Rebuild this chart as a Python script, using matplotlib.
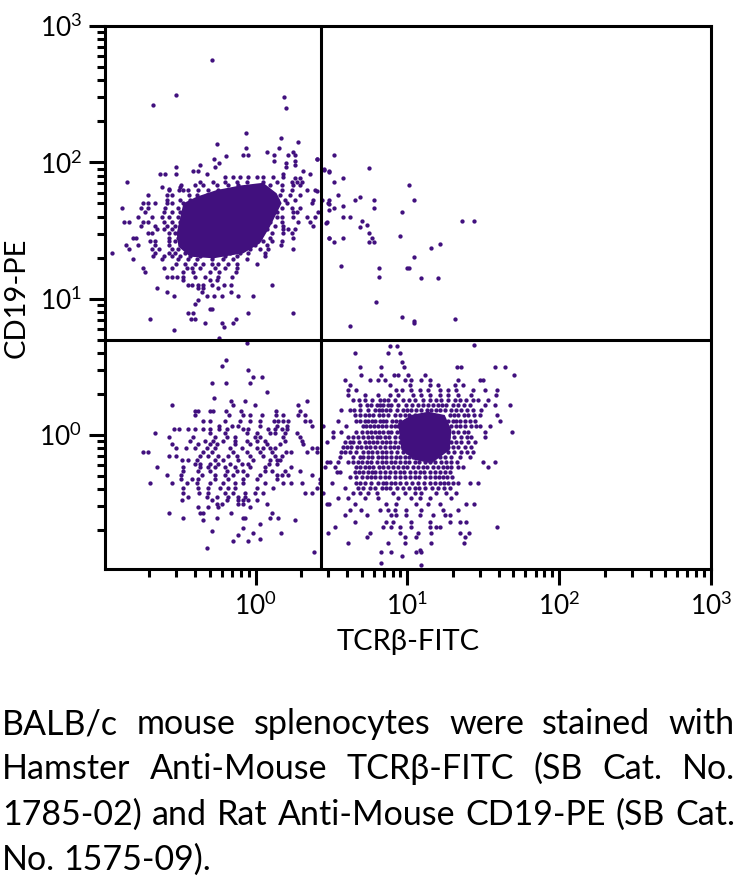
import numpy as np
import matplotlib
matplotlib.use("Agg")
import matplotlib.pyplot as plt
from matplotlib.ticker import LogLocator, LogFormatterMathtext, NullFormatter

# all event positions are log10 values, grouped by row
# lower right population (TCRb+)
t_y = [.66, .653, .60, .538, .50, .44, .40, .367, .33, .294, .257, .22, .184, .147, .103, .066, .025, -.012,
       -.049, -.085, -.122, -.159, -.195, -.232, -.269, -.31, -.354, -.391, -.428, -.464, -.508, -.55, -.587,
       -.636, -.677, -.721, -.75, -.79, -.84, -.856, -.887, -.936, -.953]
t_x = [
    [1.437], [.884, .935], [.654, .873, .95], [.966], [.687, .825, .979, 1.33, 1.356, 1.575, 1.64],
    [.698, .825, .913, .94, 1.005, 1.115, 1.70],
    [.588, .753, .808, .856, .983, 1.027, 1.093, 1.148, 1.334, 1.477, 1.5],
    [.621, .884, 1.016, 1.148, 1.202, 1.312, 1.367],
    [.61, .665, .928, .966, 1.027, 1.082, 1.137, 1.213, 1.268, 1.323, 1.433, 1.514, 1.593],
    [.606, .72, .808, .884, .94, 1.038, 1.093, 1.148, 1.213, 1.268, 1.334, 1.422, 1.586],
    [.643, .72, .819, .873, .972, 1.049, 1.148, 1.224, 1.312, 1.389, 1.466, 1.531],
    [.687, .731, .797, .841, .895, .994, 1.071, 1.137, 1.202, 1.257, 1.334, 1.411, 1.509, 1.575, 1.674],
    [.562, .621, .687, .786, .83, .884, .972, 1.027, 1.093, 1.159, 1.213, 1.29, 1.356, 1.433, 1.487],
    [.654, .72, .775, .841, .917, .983, 1.049, 1.279, 1.334, 1.4, 1.477, 1.593],
    [.544, .665, .72, .764, .819, .862, .928, .983, 1.268, 1.323, 1.378, 1.444, 1.608],
    [.446, .599, .709, .753, .808, .862, .917, .972, 1.29, 1.345, 1.422, 1.477, 1.542],
    [.512, .566, .665, .731, .786, .841, .895, .961, 1.268, 1.334, 1.4, 1.509, 1.689],
    [.512, .61, .676, .742, .797, .851, .917, .983, 1.268, 1.356, 1.422, 1.509],
    [.468, .588, .643, .72, .775, .83, .884, .95, 1.005, 1.29, 1.356, 1.444],
    [.577, .632, .698, .753, .819, .884, .94, .994, 1.268, 1.334, 1.422],
    [.402, .566, .621, .709, .764, .83, .895, .972, 1.027, 1.268, 1.356, 1.433],
    [.555, .687, .742, .808, .862, .928, .983, 1.038, 1.148, 1.213, 1.29, 1.411],
    [.468, .49, .544, .61, .676, .731, .797, .862, .917, .983, 1.049, 1.115, 1.18, 1.257, 1.29, 1.498, 1.575],
    [.457, .522, .665, .72, .775, .841, .906, .972, 1.038, 1.104, 1.169, 1.235, 1.29, 1.334, 1.367, 1.531],
    [.534, .555, .654, .709, .764, .819, .884, .95, 1.016, 1.082, 1.148, 1.213, 1.279],
    [.621, .665, .731, .786, .851, .917, .983, 1.049, 1.115, 1.18, 1.235, 1.294],
    [.424, .501, .665, .72, .808, .862, .917, .994, 1.071, 1.148, 1.213, 1.268, 1.334, 1.411, 1.466],
    [.588, .676, .753, .83, .884, .972, 1.049, 1.115, 1.202, 1.279],
    [.446, .643, .687, .742, .797, .906, .983, 1.049, 1.093, 1.191, 1.257, 1.323],
    [.544, .61, .72, .808, .94, 1.027, 1.082, 1.148, 1.29],
    [.468, .483, .654, .862, .928, 1.06, 1.137, 1.213, 1.389, 1.439],
    [.621, .698, .819, .873, .917, .994, 1.093, 1.235, 1.334],
    [.588, .731, .895, .928, .994, 1.082, 1.169, 1.246, 1.279],
    [.654, .862, .906, 1.027, 1.148, 1.279, 1.345, 1.389],
    [.522, .841, .895, .95, 1.027, 1.148, 1.191, 1.213, 1.593],
    [.479, .753, .95, 1.071, 1.159, 1.345, 1.404],
    [.731, .983, 1.06, 1.378], [.606, .873, .983, 1.154, 1.373], [1.082], [.825, .891, 1.06, 1.093],
    [.966], [.825], [1.093],
]

# extra events in the crowded part of the same population
t2_y = [.257, .22, .184, .147, .103, .066, .025, -.012, -.049, -.085, -.122, -.159, -.195, -.232, -.269,
        -.31, -.354, -.391]
t2_x = [
    [.68, .77, .845, .92, 1.01, 1.10, 1.19, 1.27, 1.35, 1.43],
    [.76, .82, .87, .94, 1.03, 1.10, 1.17, 1.23, 1.30, 1.37],
    [.65, .74, .81, .86, .93, 1.0, 1.06, 1.13, 1.19, 1.25, 1.32, 1.39],
    [.69, .75, .81, .87, .95, 1.01, 1.31, 1.37, 1.44],
    [.69, .74, .79, .84, .9, .95, 1.30, 1.35, 1.41],
    [.73, .78, .83, .89, .94, 1.32, 1.38, 1.45],
    [.70, .76, .81, .87, .93, 1.30, 1.37],
    [.64, .71, .77, .82, .88, .95, 1.31, 1.39],
    [.62, .68, .75, .80, .86, .92, .98, 1.32, 1.40],
    [.60, .67, .73, .79, .85, .91, .97, 1.30, 1.38],
    [.59, .66, .74, .80, .86, .93, 1.00, 1.31, 1.39],
    [.64, .71, .77, .83, .89, .95, 1.01, 1.25, 1.35],
    [.64, .70, .76, .83, .89, .95, 1.01, 1.08, 1.15, 1.22, 1.33],
    [.69, .75, .81, .87, .94, 1.00, 1.07, 1.13, 1.20, 1.26],
    [.68, .74, .79, .85, .92, .98, 1.05, 1.11, 1.18, 1.25],
    [.70, .76, .82, .88, .95, 1.02, 1.08, 1.15, 1.21, 1.26],
    [.69, .76, .84, .89, .95, 1.03, 1.11, 1.18, 1.24, 1.30],
    [.71, .79, .86, .93, 1.01, 1.08, 1.16, 1.24],
]

# lower left population
dn_y = [.677, .55, .506, .477, .428, .379, .318, .269, .252, .22, .176, .147, .103, .066, .042, .017, -.012,
        -.044, -.066, -.098, -.127, -.154, -.183, -.213, -.237, -.261, -.293, -.325, -.354, -.391, -.423,
        -.452, -.477, -.506, -.53, -.574, -.606, -.623, -.653, -.684, -.701, -.716, -.733, -.765, -.78,
        -.826, -.858]
dn_x = [
    [-.058], [-.192], [-.223], [-.052], [-.019, .043], [-.286, -.192, -.036], [.073], [-.271],
    [-.161, -.067, .341], [-.552, -.146, -.003, .277],
    [-.398, -.38, -.299, -.282, -.192, -.098, .135, .293],
    [-.396, -.176, -.08, -.036, .043, .135, .183, .277, .326],
    [-.348, -.299, -.201, -.102, -.036, .03, .122, .15, .183, .216, .359, .326],
    [-.238, -.157, -.113, .03, .139, .205, .37],
    [-.536, -.505, -.442, -.398, -.348, -.299, -.238, -.19, -.08, -.047, .084, .128, .172, .205],
    [-.661, -.299, -.201, -.058, .008, .095, .128, .194, .271],
    [-.567, -.409, -.266, -.19, -.135, -.003, .03, .183, .293],
    [-.431, -.332, -.277, -.212, -.135, -.058, .008, .063, .194, .304],
    [-.552, -.376, -.299, -.255, -.135, -.036, .073, .161, .315],
    [-.523, -.457, -.398, -.321, -.266, -.168, -.091, .008, .052, .095, .128, .37, .403],
    [-.742, -.709, -.343, -.288, -.146, -.058, .03, .106, .201, .231, .337],
    [-.567, -.523, -.365, -.31, -.244, -.179, -.124, -.036, .052, .128, .172],
    [-.486, -.442, -.387, -.266, -.212, -.113, -.014, .095, .139, .161],
    [-.398, -.365, -.299, -.244, -.168, -.091, -.047, .091, .139],
    [-.646, -.475, -.365, -.31, -.266, -.201, -.135, -.036, .063, .231],
    [-.475, -.376, -.299, -.19, -.124, -.08, .063, .106, .194, .293],
    [-.584, -.49, -.354, -.266, -.201, -.146, -.058, .03, .139, .172, .216, .37],
    [-.49, -.42, -.376, -.266, -.179, -.08, .008, .139, .424],
    [-.694, -.552, -.453, -.387, -.299, -.212, -.135, -.08, .063, .183, .231, .304],
    [-.475, -.376, -.31, -.233, -.179, -.135, .008, .118, .403],
    [-.475, -.37, -.31, -.201, -.146, -.069, -.003, .052, .326, .37],
    [-.442, -.321, -.255, -.179, -.113, -.069],
    [-.486, -.288, -.19, -.113, -.08, -.047, .008],
    [-.255, -.223, -.113, -.08, .073], [-.38, -.315, -.244, -.036],
    [-.567, -.365, -.348, -.161, .106], [-.475, -.255, -.084, -.067, .095, .15], [-.348, .262], [.03],
    [-.08], [-.286], [-.019, .168], [-.113], [.03], [-.146, -.052], [-.317], [.387],
]

# upper left population, events outside the solid core
b_y = [2.747, 2.495, 2.48, 2.417, 2.402, 2.214, 2.182, 2.15, 2.135, 2.104, 2.074, 2.057, 2.043, 2.025, 2.011,
       1.994, 1.979, 1.964, 1.947, 1.933, 1.915, 1.895, 1.886, 1.858, 1.837, 1.822, 1.808, 1.797, 1.761, 1.724,
       1.70, 1.668, 1.638, 1.602, 1.565, 1.533, 1.509, 1.479, 1.448, 1.426, 1.396, 1.367, 1.338, 1.313, 1.289,
       1.255, 1.223, 1.196, 1.162, 1.137, 1.10, 1.076, 1.052, 1.02, .99, .959, .922, .897, .851, .819, .795,
       .77, .709]
b_x = [
    [-.286], [-.521], [.185], [-.677], [.201], [-.065], [.168], [.28], [-.253], [.155, -.065],
    [.073, .247], [-.08, -.049, .122, .216, .262], [-.192], [-.271, .405], [.122, .262],
    [-.238, .201], [-.365, .262], [-.521, -.269, .201], [.451], [-.409, -.378, .31, .481],
    [-.628, -.598, -.521, -.317, .183, .359],
    [-.201, -.146, -.102, -.047, .008, .052, .117, .183], [.262, .295],
    [-.848, -.365, -.277, -.201, -.124, -.058, .052, .139, .238, .271, .304],
    [-.49, .247, -.398, -.343, -.255, -.179, -.113, .095, .172, .293],
    [-.615, -.497], [-.567],
    [-.567, -.503, -.475, -.442, -.376, -.31, -.244, .172, .238, .337, .391],
    [-.709, -.584, -.551, -.435, -.387, -.321, .161, .227, .293],
    [-.584, -.497, -.431, .139, .194, .26, .381, .435],
    [-.738, -.705, -.661, -.584, -.551, -.475, .205, .37, .479],
    [-.88, -.755, -.709, -.595, -.508, .128, .172, .238, .293],
    [-.727, -.606, -.551, -.497, .139, .249, .271, .413],
    [-.771, -.683, -.617, -.573, -.508, .139, .172, .249, .337, .391],
    [-.865, -.834, -.738, -.709, -.606, -.551, -.497, .095, .172, .282, .359, .468],
    [-.755, -.661, -.584, -.53, -.497, .052, .128, .183, .381],
    [-.65, -.606, -.551, -.497, .073, .183, .216, .26],
    [-.705, -.683, -.573, -.53, -.497, -.442, .03, .106, .183, .238],
    [-.804, -.786, -.573, -.508, -.453, -.387, -.036, .03, .095, .249, .481],
    [-.694, -.661, -.573, -.53, -.442, -.365, .008, .052, .106, .172],
    [-.852, -.771, -.661, -.573, -.486, -.409, -.058, -.003, .073, .168],
    [-.834, -.683, -.639, -.552, -.508, -.442, -.376, -.321, -.102, -.036, .03, .084, .245],
    [-.944, -.661, -.573, -.53, -.464, -.398, -.299, -.233, -.168, -.102, -.047, .063],
    [-.672, -.606, -.552, -.497, -.431, -.365, -.277, -.201, -.124, .063],
    [-.804, -.617, -.508, -.442, -.387, -.288, -.212, -.146, -.058],
    [-.523, -.464, -.398, -.343, -.288, -.244, -.179, -.124, .012],
    [-.742, -.602, -.551, -.453, -.42, -.365, -.266, -.201, -.124],
    [-.725, -.475, -.409, -.299, -.238, -.128],
    [-.584, -.551, -.519, -.475, -.398, -.332, -.244, -.157], [-.475, -.299, -.255],
    [-.442, -.42, -.376, -.343, -.288, -.207, -.161, .106], [-.646, -.376, -.343, -.244],
    [-.584, -.354, -.161], [-.536, -.317, -.271, -.223, -.113, -.019], [-.38], [-.396], [-.286, -.299],
    [-.442, -.413, -.052, .245], [-.694, -.426, -.396, -.128], [-.332, -.223, -.146], [-.207], [-.536],
    [-.238],
]

# upper right events
dp_x = [.514, .402, .746, .45, .483, .575, .514, 1.014, .402, .545, .483, .654, .685, .779, 1.045, .483, .575,
        .779, .514, .483, .968, .575, .621, .7, 1.358, 1.437, .466, .733, .685, .746, .95, .764, .483, .575,
        .514, .746, .779, 1.218, 1.154, 1.045, .56, .81, 1.0, 1.014, .81, 1.093, 1.202, .794, .968, 1.312,
        1.045, 1.045, .621]
dp_y = [2.057, 2.025, 1.962, 1.95, 1.932, 1.883, 1.854, 1.837, 1.791, 1.759, 1.727, 1.727, 1.744, 1.727, 1.727,
        1.695, 1.681, 1.666, 1.666, 1.649, 1.634, 1.602, 1.602, 1.571, 1.571, 1.571, 1.556, 1.541, 1.524,
        1.478, 1.46, 1.446, 1.446, 1.446, 1.414, 1.414, 1.414, 1.399, 1.368, 1.304, 1.24, 1.226, 1.226, 1.226,
        1.162, 1.148, 1.148, .976, .866, .852, .835, .82, .803]

# outlines of the regions where the dots merge into solid colour
b_core_x = [-.519, -.475, -.387, -.255, -.102, .05, .139, .172, .095, .03, -.08, -.277, -.431, -.508]
b_core_y = [1.479, 1.70, 1.748, 1.797, 1.83, 1.85, 1.773, 1.70, 1.528, 1.406, 1.333, 1.296, 1.308, 1.382]
t_core_x = [.939, 1.027, 1.137, 1.246, 1.29, 1.279, 1.159, 1.049, .961]
t_core_y = [.086, .147, .171, .147, .037, -.11, -.208, -.183, -.11]

x_gate = 2.7
y_gate = 4.98

caption_lines = [
    "BALB/c mouse splenocytes were stained with",
    "Hamster Anti-Mouse TCRβ-FITC (SB Cat. No.",
    "1785-02) and Rat Anti-Mouse CD19-PE (SB Cat.",
    "No. 1575-09).",
]

PURPLE = "#41107e"
plt.rcParams["font.family"] = ["Lato", "DejaVu Sans"]
plt.rcParams["mathtext.fontset"] = "custom"
plt.rcParams["mathtext.rm"] = "Lato"
plt.rcParams["mathtext.default"] = "regular"


def _unroll(rows_y, rows_x):
    xs, ys = [], []
    for y, row in zip(rows_y, rows_x):
        xs.extend(row)
        ys.extend([y] * len(row))
    return np.array(xs), np.array(ys)


def _justified(fig, words, y_px, left, right, size, justify=True):
    renderer = fig.canvas.get_renderer()
    items = [fig.text(0, 1 - y_px / 883, w, fontsize=size, va="baseline", color="black") for w in words]
    widths = [t.get_window_extent(renderer).width for t in items]
    gap = (right - left - sum(widths)) / (len(words) - 1) if justify else size * 0.32
    x = left
    for t, w in zip(items, widths):
        t.set_x(x / 738)
        x += w + gap


fig = plt.figure(figsize=(7.38, 8.83), dpi=100)
ax = fig.add_axes([105 / 738, 1 - 569 / 883, (711 - 105) / 738, (569 - 26) / 883])

ax.set_xscale("log")
ax.set_yscale("log")
ax.set_xlim(0.102, 1000)
ax.set_ylim(0.104, 1000)

ax.fill(10 ** np.array(b_core_x), 10 ** np.array(b_core_y), color=PURPLE, lw=0, zorder=2)
ax.fill(10 ** np.array(t_core_x), 10 ** np.array(t_core_y), color=PURPLE, lw=0, zorder=2)

for rows_y, rows_x in [(t_y, t_x), (t2_y, t2_x), (dn_y, dn_x), (b_y, b_x)]:
    xs, ys = _unroll(rows_y, rows_x)
    ax.plot(10 ** xs, 10 ** ys, ls="none", marker="o", ms=3.1, mew=0, color=PURPLE, zorder=3)
ax.plot(10 ** np.array(dp_x), 10 ** np.array(dp_y), ls="none", marker="o", ms=3.1, mew=0, color=PURPLE, zorder=3)

ax.axvline(x_gate, color="black", lw=2.2, zorder=4)
ax.axhline(y_gate, color="black", lw=2.2, zorder=4)

for spine in ax.spines.values():
    spine.set_linewidth(2.2)

for axis in (ax.xaxis, ax.yaxis):
    axis.set_major_locator(LogLocator(base=10, numticks=6))
    axis.set_major_formatter(LogFormatterMathtext())
    axis.set_minor_locator(LogLocator(base=10, subs=range(2, 10), numticks=12))
    axis.set_minor_formatter(NullFormatter())
ax.tick_params(which="major", length=11.5, width=2.2, labelsize=19, pad=5)
ax.tick_params(which="minor", length=6, width=2.2)

ax.set_xlabel("TCRβ-FITC", fontsize=21, labelpad=7)
ax.set_ylabel("CD19-PE", fontsize=21, labelpad=7)

fig.canvas.draw()
_justified(fig, caption_lines[0].split(), 734, 2, 735, 24.5)
_justified(fig, caption_lines[1].split(), 779, 2, 735, 24.5)
_justified(fig, caption_lines[2].split(), 825, 2, 735, 24.5)
_justified(fig, caption_lines[3].split(), 870, 2, 735, 24.5, justify=False)

fig.savefig("out.png", dpi=100)
